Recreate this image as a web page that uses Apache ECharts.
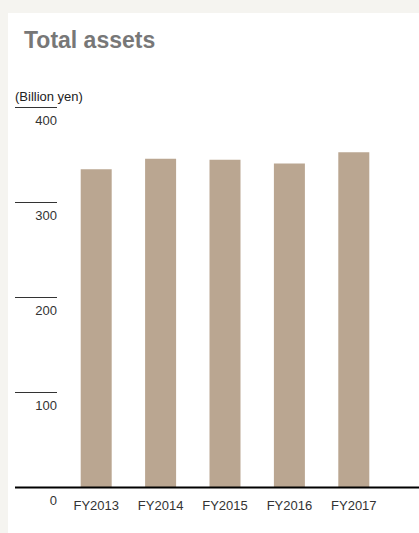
<!DOCTYPE html>
<html>
<head>
<meta charset="utf-8">
<script src="https://cdn.jsdelivr.net/npm/echarts@6/dist/echarts.min.js"></script>
<style>
  html, body { margin: 0; padding: 0; background: #f5f4f0; }
  #chart { width: 419px; height: 533px; }
</style>
</head>
<body>
<div id="chart"></div>
<script>
// data
const years = ['FY2013', 'FY2014', 'FY2015', 'FY2016', 'FY2017']
const totalAssets = [335, 346, 345, 341, 353] // billion yen
const yTicks = [0, 100, 200, 300, 400]

const chart = echarts.init(document.getElementById('chart'), null, { renderer: 'svg' })
const font = '"Liberation Sans", Arial, Helvetica, sans-serif'

const option = {
    backgroundColor: '#f5f4f0',
    animation: false,
    title: {
        text: 'Total assets',
        left: 19,
        top: 23,
        textStyle: { fontFamily: font, fontSize: 23, fontWeight: 'bold', color: '#777777' }
    },
    grid: { left: 64, right: 33, top: 107.5, bottom: 45.5 },
    xAxis: {
        type: 'category',
        data: years,
        axisLine: { show: false },
        axisTick: { show: false },
        axisLabel: { margin: 11, fontFamily: font, fontSize: 13, color: '#333' }
    },
    yAxis: {
        type: 'value',
        min: yTicks[0],
        max: yTicks[yTicks.length - 1],
        interval: 100,
        offset: 7,
        name: '(Billion yen)',
        nameLocation: 'end',
        nameGap: 5,
        nameTextStyle: { fontFamily: font, fontSize: 13, color: '#222', align: 'left', padding: [0, 0, 0, -42] },
        axisLine: { show: false },
        axisTick: { show: true, length: 42, lineStyle: { color: '#333', width: 1 } },
        splitLine: { show: false },
        axisLabel: {
            margin: 0,
            fontFamily: font,
            fontSize: 13,
            color: '#333',
            verticalAlign: 'top',
            lineHeight: 26
        }
    },
    series: [{
        type: 'bar',
        data: totalAssets,
        barWidth: 31,
        itemStyle: { color: '#baa691' }
    }]
}
chart.setOption(option)

// white panel behind the chart and the long baseline at zero
const y0 = chart.convertToPixel({ yAxisIndex: 0 }, 0)
chart.setOption({
    graphic: [
        { type: 'rect', z: -10, silent: true, shape: { x: 8, y: 13, width: 411, height: 520 }, style: { fill: '#ffffff' } },
        { type: 'line', z: 10, silent: true, shape: { x1: 15, y1: y0, x2: 419, y2: y0 }, style: { stroke: '#000', lineWidth: 2 } }
    ]
})
</script>
</body>
</html>
